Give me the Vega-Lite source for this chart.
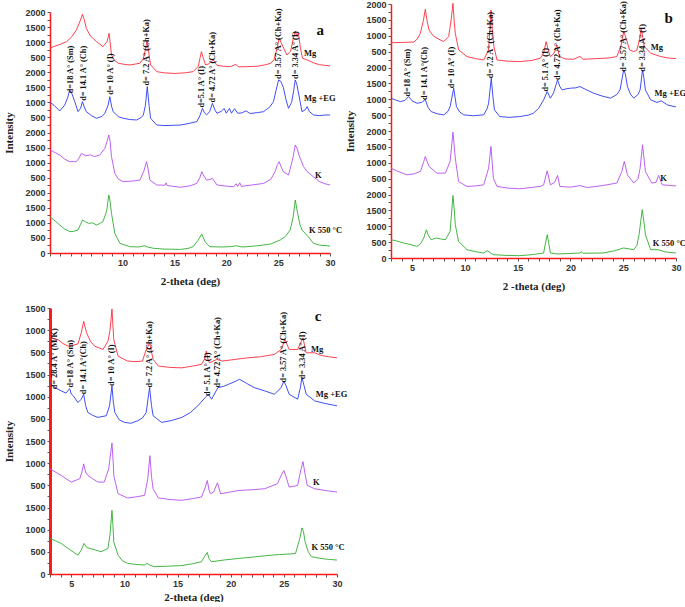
{
"$schema":"https://vega.github.io/schema/vega-lite/v6.json",
"padding":{"left":3,"top":0,"right":0,"bottom":0},
"config":{"view":{"stroke":null},"axis":{"grid":false,"labelFont":"Liberation Sans","labelFontWeight":"bold","labelFontSize":9,"labelColor":"#333","titleFont":"Liberation Serif","titleFontWeight":"bold","titleFontSize":11,"titleColor":"#222","tickColor":"#555","tickSize":3,"labelPadding":2,"labelOverlap":false,"labelFlush":false,"domainColor":"#ff1a1a","domainWidth":1.5}},
"datasets":{
"a":[
{"s":"Mg","x":3,"y":6800},{"s":"Mg","x":3.5,"y":6870},{"s":"Mg","x":4,"y":6930},{"s":"Mg","x":4.6,"y":7015},{"s":"Mg","x":5.1,"y":7180},{"s":"Mg","x":5.55,"y":7404},{"s":"Mg","x":5.9,"y":7700},{"s":"Mg","x":6.13,"y":7925},{"s":"Mg","x":6.3,"y":7750},{"s":"Mg","x":6.5,"y":7460},{"s":"Mg","x":6.9,"y":7200},{"s":"Mg","x":7.5,"y":7015},{"s":"Mg","x":8.1,"y":6850},{"s":"Mg","x":8.5,"y":7015},{"s":"Mg","x":8.7,"y":7294},{"s":"Mg","x":8.93,"y":6574},{"s":"Mg","x":9.2,"y":6400},{"s":"Mg","x":9.6,"y":6298},{"s":"Mg","x":10.2,"y":6260},{"s":"Mg","x":10.7,"y":6242},{"s":"Mg","x":11.2,"y":6270},{"s":"Mg","x":11.67,"y":6298},{"s":"Mg","x":12.0,"y":6450},{"s":"Mg","x":12.2,"y":6750},{"s":"Mg","x":12.35,"y":7050},{"s":"Mg","x":12.5,"y":6700},{"s":"Mg","x":12.7,"y":6242},{"s":"Mg","x":13.3,"y":6020},{"s":"Mg","x":14,"y":5980},{"s":"Mg","x":15,"y":5960},{"s":"Mg","x":16,"y":5980},{"s":"Mg","x":16.8,"y":6020},{"s":"Mg","x":17.3,"y":6200},{"s":"Mg","x":17.6,"y":6683},{"s":"Mg","x":17.8,"y":6450},{"s":"Mg","x":18.0,"y":6242},{"s":"Mg","x":18.3,"y":6280},{"s":"Mg","x":18.75,"y":6408},{"s":"Mg","x":19.1,"y":6230},{"s":"Mg","x":19.7,"y":6200},{"s":"Mg","x":20.4,"y":6186},{"s":"Mg","x":20.9,"y":6260},{"s":"Mg","x":21.2,"y":6180},{"s":"Mg","x":22,"y":6186},{"s":"Mg","x":23,"y":6200},{"s":"Mg","x":23.8,"y":6250},{"s":"Mg","x":24.3,"y":6300},{"s":"Mg","x":24.6,"y":6420},{"s":"Mg","x":24.9,"y":6800},{"s":"Mg","x":25.1,"y":7128},{"s":"Mg","x":25.4,"y":6900},{"s":"Mg","x":25.84,"y":6574},{"s":"Mg","x":26.2,"y":6700},{"s":"Mg","x":26.45,"y":7100},{"s":"Mg","x":26.65,"y":7370},{"s":"Mg","x":26.8,"y":7200},{"s":"Mg","x":26.95,"y":7300},{"s":"Mg","x":27.15,"y":6800},{"s":"Mg","x":27.35,"y":6463},{"s":"Mg","x":27.7,"y":6420},{"s":"Mg","x":28.0,"y":6380},{"s":"Mg","x":28.5,"y":6300},{"s":"Mg","x":29,"y":6250},{"s":"Mg","x":29.5,"y":6230},{"s":"Mg","x":30,"y":6208},
{"s":"EG","x":3,"y":5000},{"s":"EG","x":3.4,"y":4900},{"s":"EG","x":3.94,"y":4714},{"s":"EG","x":4.42,"y":4914},{"s":"EG","x":4.7,"y":5150},{"s":"EG","x":4.9,"y":5412},{"s":"EG","x":5.1,"y":5300},{"s":"EG","x":5.39,"y":5024},{"s":"EG","x":5.7,"y":4692},{"s":"EG","x":5.95,"y":4800},{"s":"EG","x":6.13,"y":5024},{"s":"EG","x":6.3,"y":4850},{"s":"EG","x":6.5,"y":4692},{"s":"EG","x":7,"y":4560},{"s":"EG","x":7.48,"y":4472},{"s":"EG","x":8,"y":4530},{"s":"EG","x":8.29,"y":4638},{"s":"EG","x":8.6,"y":4900},{"s":"EG","x":8.77,"y":5190},{"s":"EG","x":8.95,"y":4850},{"s":"EG","x":9.1,"y":4692},{"s":"EG","x":9.6,"y":4520},{"s":"EG","x":10.06,"y":4472},{"s":"EG","x":10.7,"y":4430},{"s":"EG","x":11.35,"y":4416},{"s":"EG","x":11.8,"y":4500},{"s":"EG","x":12.0,"y":4582},{"s":"EG","x":12.2,"y":4900},{"s":"EG","x":12.38,"y":5522},{"s":"EG","x":12.55,"y":4900},{"s":"EG","x":12.7,"y":4472},{"s":"EG","x":13.28,"y":4250},{"s":"EG","x":14,"y":4230},{"s":"EG","x":15,"y":4240},{"s":"EG","x":15.6,"y":4250},{"s":"EG","x":16.4,"y":4300},{"s":"EG","x":17.15,"y":4360},{"s":"EG","x":17.45,"y":4550},{"s":"EG","x":17.7,"y":4803},{"s":"EG","x":17.9,"y":4650},{"s":"EG","x":18.1,"y":4582},{"s":"EG","x":18.4,"y":4700},{"s":"EG","x":18.66,"y":4969},{"s":"EG","x":18.9,"y":4750},{"s":"EG","x":19.1,"y":4638},{"s":"EG","x":19.5,"y":4700},{"s":"EG","x":19.8,"y":4800},{"s":"EG","x":20.0,"y":4640},{"s":"EG","x":20.3,"y":4800},{"s":"EG","x":20.5,"y":4640},{"s":"EG","x":20.8,"y":4790},{"s":"EG","x":21.1,"y":4640},{"s":"EG","x":21.5,"y":4650},{"s":"EG","x":21.9,"y":4720},{"s":"EG","x":22.3,"y":4630},{"s":"EG","x":23,"y":4660},{"s":"EG","x":23.6,"y":4692},{"s":"EG","x":24.2,"y":4850},{"s":"EG","x":24.55,"y":5024},{"s":"EG","x":24.8,"y":5400},{"s":"EG","x":25.04,"y":5744},{"s":"EG","x":25.25,"y":5700},{"s":"EG","x":25.5,"y":5500},{"s":"EG","x":25.75,"y":5100},{"s":"EG","x":26.0,"y":4803},{"s":"EG","x":26.3,"y":5000},{"s":"EG","x":26.5,"y":5400},{"s":"EG","x":26.65,"y":5744},{"s":"EG","x":26.8,"y":5600},{"s":"EG","x":27.0,"y":5246},{"s":"EG","x":27.3,"y":4692},{"s":"EG","x":27.6,"y":4750},{"s":"EG","x":27.8,"y":4860},{"s":"EG","x":28.0,"y":4700},{"s":"EG","x":28.4,"y":4582},{"s":"EG","x":29,"y":4560},{"s":"EG","x":29.5,"y":4580},{"s":"EG","x":30,"y":4582},
{"s":"K","x":3,"y":3420},{"s":"K","x":3.5,"y":3330},{"s":"K","x":3.94,"y":3254},{"s":"K","x":4.4,"y":3120},{"s":"K","x":4.9,"y":3031},{"s":"K","x":5.55,"y":3031},{"s":"K","x":5.8,"y":3150},{"s":"K","x":6.03,"y":3310},{"s":"K","x":6.4,"y":3230},{"s":"K","x":6.9,"y":3254},{"s":"K","x":7.3,"y":3200},{"s":"K","x":7.8,"y":3254},{"s":"K","x":8.29,"y":3475},{"s":"K","x":8.5,"y":3700},{"s":"K","x":8.67,"y":3918},{"s":"K","x":8.8,"y":3700},{"s":"K","x":8.93,"y":3199},{"s":"K","x":9.25,"y":2645},{"s":"K","x":9.6,"y":2450},{"s":"K","x":10.06,"y":2368},{"s":"K","x":11,"y":2390},{"s":"K","x":11.67,"y":2420},{"s":"K","x":12.05,"y":2720},{"s":"K","x":12.31,"y":3031},{"s":"K","x":12.45,"y":2800},{"s":"K","x":12.63,"y":2420},{"s":"K","x":13.28,"y":2258},{"s":"K","x":14.1,"y":2250},{"s":"K","x":14.2,"y":2330},{"s":"K","x":14.3,"y":2240},{"s":"K","x":15.6,"y":2180},{"s":"K","x":16.5,"y":2230},{"s":"K","x":17.15,"y":2310},{"s":"K","x":17.45,"y":2500},{"s":"K","x":17.63,"y":2700},{"s":"K","x":17.85,"y":2550},{"s":"K","x":18.1,"y":2420},{"s":"K","x":18.4,"y":2440},{"s":"K","x":18.66,"y":2475},{"s":"K","x":19.1,"y":2258},{"s":"K","x":20,"y":2220},{"s":"K","x":20.7,"y":2200},{"s":"K","x":20.95,"y":2300},{"s":"K","x":21.1,"y":2210},{"s":"K","x":21.3,"y":2330},{"s":"K","x":21.45,"y":2210},{"s":"K","x":22.5,"y":2260},{"s":"K","x":23.6,"y":2310},{"s":"K","x":24.3,"y":2450},{"s":"K","x":24.7,"y":2700},{"s":"K","x":24.9,"y":2900},{"s":"K","x":25.1,"y":3031},{"s":"K","x":25.3,"y":2850},{"s":"K","x":25.5,"y":2700},{"s":"K","x":26.0,"y":2590},{"s":"K","x":26.42,"y":3143},{"s":"K","x":26.65,"y":3586},{"s":"K","x":26.85,"y":3450},{"s":"K","x":27.0,"y":3254},{"s":"K","x":27.45,"y":2866},{"s":"K","x":27.8,"y":2700},{"s":"K","x":28.4,"y":2530},{"s":"K","x":29.0,"y":2368},{"s":"K","x":29.5,"y":2300},{"s":"K","x":30,"y":2258},
{"s":"K5","x":3,"y":1205},{"s":"K5","x":3.5,"y":1060},{"s":"K5","x":3.94,"y":930},{"s":"K5","x":4.4,"y":800},{"s":"K5","x":4.9,"y":708},{"s":"K5","x":5.3,"y":720},{"s":"K5","x":5.7,"y":763},{"s":"K5","x":5.95,"y":950},{"s":"K5","x":6.13,"y":1096},{"s":"K5","x":6.4,"y":1040},{"s":"K5","x":6.7,"y":985},{"s":"K5","x":7.1,"y":1000},{"s":"K5","x":7.48,"y":930},{"s":"K5","x":7.8,"y":980},{"s":"K5","x":8.1,"y":1040},{"s":"K5","x":8.45,"y":1371},{"s":"K5","x":8.67,"y":1926},{"s":"K5","x":8.8,"y":1700},{"s":"K5","x":8.93,"y":1316},{"s":"K5","x":9.25,"y":653},{"s":"K5","x":9.74,"y":321},{"s":"K5","x":10.7,"y":210},{"s":"K5","x":11.5,"y":200},{"s":"K5","x":12.1,"y":240},{"s":"K5","x":12.4,"y":200},{"s":"K5","x":13.0,"y":155},{"s":"K5","x":14,"y":130},{"s":"K5","x":15.6,"y":120},{"s":"K5","x":16.3,"y":150},{"s":"K5","x":16.8,"y":210},{"s":"K5","x":17.3,"y":432},{"s":"K5","x":17.63,"y":631},{"s":"K5","x":17.95,"y":376},{"s":"K5","x":18.4,"y":210},{"s":"K5","x":19.5,"y":200},{"s":"K5","x":20.4,"y":210},{"s":"K5","x":21,"y":240},{"s":"K5","x":21.5,"y":200},{"s":"K5","x":22.0,"y":210},{"s":"K5","x":23.0,"y":240},{"s":"K5","x":23.6,"y":266},{"s":"K5","x":24.3,"y":300},{"s":"K5","x":25.2,"y":432},{"s":"K5","x":25.7,"y":550},{"s":"K5","x":26.16,"y":763},{"s":"K5","x":26.45,"y":1200},{"s":"K5","x":26.65,"y":1760},{"s":"K5","x":26.88,"y":1316},{"s":"K5","x":27.1,"y":950},{"s":"K5","x":27.3,"y":763},{"s":"K5","x":27.9,"y":542},{"s":"K5","x":28.4,"y":321},{"s":"K5","x":29,"y":260},{"s":"K5","x":30,"y":232}
],
"b":[
{"s":"Mg","x":3,"y":6780},{"s":"Mg","x":4,"y":6790},{"s":"Mg","x":5.15,"y":6800},{"s":"Mg","x":5.5,"y":6900},{"s":"Mg","x":5.78,"y":7078},{"s":"Mg","x":6.05,"y":7450},{"s":"Mg","x":6.25,"y":7833},{"s":"Mg","x":6.4,"y":7500},{"s":"Mg","x":6.6,"y":7182},{"s":"Mg","x":7,"y":7000},{"s":"Mg","x":7.36,"y":6921},{"s":"Mg","x":7.99,"y":6816},{"s":"Mg","x":8.46,"y":6973},{"s":"Mg","x":8.7,"y":7500},{"s":"Mg","x":8.87,"y":8020},{"s":"Mg","x":9.0,"y":7400},{"s":"Mg","x":9.09,"y":7078},{"s":"Mg","x":9.41,"y":6553},{"s":"Mg","x":10.2,"y":6343},{"s":"Mg","x":11,"y":6280},{"s":"Mg","x":11.78,"y":6238},{"s":"Mg","x":12.25,"y":6553},{"s":"Mg","x":12.47,"y":7811},{"s":"Mg","x":12.6,"y":7200},{"s":"Mg","x":12.75,"y":6658},{"s":"Mg","x":13.04,"y":6238},{"s":"Mg","x":14,"y":6200},{"s":"Mg","x":15.2,"y":6186},{"s":"Mg","x":16.3,"y":6220},{"s":"Mg","x":17.14,"y":6290},{"s":"Mg","x":17.45,"y":6450},{"s":"Mg","x":17.7,"y":6815},{"s":"Mg","x":17.9,"y":6550},{"s":"Mg","x":18.1,"y":6343},{"s":"Mg","x":18.45,"y":6450},{"s":"Mg","x":18.72,"y":6710},{"s":"Mg","x":18.95,"y":6350},{"s":"Mg","x":19.5,"y":6270},{"s":"Mg","x":20.3,"y":6260},{"s":"Mg","x":20.9,"y":6350},{"s":"Mg","x":21.2,"y":6260},{"s":"Mg","x":22.5,"y":6280},{"s":"Mg","x":23.6,"y":6300},{"s":"Mg","x":24.4,"y":6343},{"s":"Mg","x":24.8,"y":6700},{"s":"Mg","x":25.04,"y":7130},{"s":"Mg","x":25.3,"y":6900},{"s":"Mg","x":25.6,"y":6553},{"s":"Mg","x":26.0,"y":6500},{"s":"Mg","x":26.3,"y":6553},{"s":"Mg","x":26.55,"y":6900},{"s":"Mg","x":26.7,"y":7236},{"s":"Mg","x":26.85,"y":6950},{"s":"Mg","x":27.0,"y":6658},{"s":"Mg","x":27.6,"y":6448},{"s":"Mg","x":28.5,"y":6350},{"s":"Mg","x":29.2,"y":6300},{"s":"Mg","x":30,"y":6280},
{"s":"EG","x":3,"y":5034},{"s":"EG","x":3.4,"y":4980},{"s":"EG","x":3.88,"y":4927},{"s":"EG","x":4.3,"y":4960},{"s":"EG","x":4.67,"y":5084},{"s":"EG","x":5.0,"y":4950},{"s":"EG","x":5.46,"y":4875},{"s":"EG","x":5.9,"y":4900},{"s":"EG","x":6.25,"y":4990},{"s":"EG","x":6.5,"y":4750},{"s":"EG","x":6.8,"y":4612},{"s":"EG","x":7.4,"y":4540},{"s":"EG","x":8.0,"y":4507},{"s":"EG","x":8.4,"y":4620},{"s":"EG","x":8.6,"y":4770},{"s":"EG","x":8.94,"y":5348},{"s":"EG","x":9.2,"y":4770},{"s":"EG","x":9.5,"y":4600},{"s":"EG","x":9.9,"y":4507},{"s":"EG","x":10.8,"y":4480},{"s":"EG","x":11.78,"y":4507},{"s":"EG","x":12.1,"y":4700},{"s":"EG","x":12.25,"y":4875},{"s":"EG","x":12.5,"y":5663},{"s":"EG","x":12.65,"y":5100},{"s":"EG","x":12.8,"y":4665},{"s":"EG","x":13.3,"y":4455},{"s":"EG","x":14.2,"y":4430},{"s":"EG","x":15.2,"y":4455},{"s":"EG","x":16.0,"y":4500},{"s":"EG","x":16.5,"y":4560},{"s":"EG","x":17.0,"y":4720},{"s":"EG","x":17.46,"y":4980},{"s":"EG","x":17.8,"y":5242},{"s":"EG","x":18.1,"y":5034},{"s":"EG","x":18.4,"y":5200},{"s":"EG","x":18.78,"y":5610},{"s":"EG","x":19.0,"y":5400},{"s":"EG","x":19.2,"y":5295},{"s":"EG","x":19.6,"y":5330},{"s":"EG","x":20.0,"y":5348},{"s":"EG","x":20.5,"y":5360},{"s":"EG","x":20.9,"y":5400},{"s":"EG","x":21.5,"y":5300},{"s":"EG","x":22.2,"y":5190},{"s":"EG","x":23.0,"y":5100},{"s":"EG","x":23.8,"y":5034},{"s":"EG","x":24.4,"y":5150},{"s":"EG","x":24.7,"y":5295},{"s":"EG","x":25.04,"y":5923},{"s":"EG","x":25.2,"y":5800},{"s":"EG","x":25.4,"y":5400},{"s":"EG","x":25.7,"y":5150},{"s":"EG","x":26.0,"y":5034},{"s":"EG","x":26.4,"y":5150},{"s":"EG","x":26.6,"y":5295},{"s":"EG","x":26.83,"y":5923},{"s":"EG","x":26.95,"y":5700},{"s":"EG","x":27.1,"y":5295},{"s":"EG","x":27.6,"y":4980},{"s":"EG","x":28.2,"y":4900},{"s":"EG","x":28.6,"y":4950},{"s":"EG","x":29.2,"y":4820},{"s":"EG","x":29.8,"y":4770},{"s":"EG","x":30,"y":4760},
{"s":"K","x":3,"y":2831},{"s":"K","x":3.5,"y":2750},{"s":"K","x":4.5,"y":2620},{"s":"K","x":5.2,"y":2650},{"s":"K","x":5.8,"y":2730},{"s":"K","x":6.1,"y":3040},{"s":"K","x":6.25,"y":3196},{"s":"K","x":6.6,"y":2883},{"s":"K","x":7.36,"y":2673},{"s":"K","x":8.15,"y":2673},{"s":"K","x":8.6,"y":3040},{"s":"K","x":8.87,"y":3964},{"s":"K","x":9.09,"y":3146},{"s":"K","x":9.4,"y":2410},{"s":"K","x":10.2,"y":2253},{"s":"K","x":11.0,"y":2270},{"s":"K","x":11.78,"y":2305},{"s":"K","x":12.25,"y":2831},{"s":"K","x":12.47,"y":3511},{"s":"K","x":12.7,"y":2517},{"s":"K","x":13.04,"y":2253},{"s":"K","x":14.1,"y":2200},{"s":"K","x":15.2,"y":2180},{"s":"K","x":16.3,"y":2220},{"s":"K","x":17.2,"y":2260},{"s":"K","x":17.46,"y":2305},{"s":"K","x":17.8,"y":2746},{"s":"K","x":18.1,"y":2305},{"s":"K","x":18.5,"y":2380},{"s":"K","x":18.78,"y":2600},{"s":"K","x":19.0,"y":2253},{"s":"K","x":20.0,"y":2230},{"s":"K","x":20.9,"y":2280},{"s":"K","x":21.6,"y":2220},{"s":"K","x":23.0,"y":2280},{"s":"K","x":24.4,"y":2360},{"s":"K","x":24.87,"y":2725},{"s":"K","x":25.1,"y":3040},{"s":"K","x":25.4,"y":2620},{"s":"K","x":26.0,"y":2360},{"s":"K","x":26.4,"y":2500},{"s":"K","x":26.6,"y":2831},{"s":"K","x":26.83,"y":3564},{"s":"K","x":27.1,"y":2730},{"s":"K","x":27.7,"y":2360},{"s":"K","x":28.1,"y":2380},{"s":"K","x":28.35,"y":2600},{"s":"K","x":28.7,"y":2305},{"s":"K","x":29.3,"y":2290},{"s":"K","x":30,"y":2270},
{"s":"K5","x":3,"y":576},{"s":"K5","x":3.5,"y":540},{"s":"K5","x":4.2,"y":471},{"s":"K5","x":4.9,"y":420},{"s":"K5","x":5.46,"y":366},{"s":"K5","x":5.8,"y":450},{"s":"K5","x":6.1,"y":629},{"s":"K5","x":6.35,"y":890},{"s":"K5","x":6.55,"y":700},{"s":"K5","x":6.8,"y":576},{"s":"K5","x":7.25,"y":629},{"s":"K5","x":7.7,"y":600},{"s":"K5","x":8.15,"y":576},{"s":"K5","x":8.6,"y":838},{"s":"K5","x":8.87,"y":1970},{"s":"K5","x":9.0,"y":1500},{"s":"K5","x":9.09,"y":1048},{"s":"K5","x":9.4,"y":524},{"s":"K5","x":10.2,"y":262},{"s":"K5","x":11.0,"y":200},{"s":"K5","x":11.78,"y":157},{"s":"K5","x":12.1,"y":231},{"s":"K5","x":12.4,"y":170},{"s":"K5","x":12.7,"y":105},{"s":"K5","x":14.0,"y":80},{"s":"K5","x":15.2,"y":73},{"s":"K5","x":16.5,"y":110},{"s":"K5","x":17.46,"y":157},{"s":"K5","x":17.65,"y":500},{"s":"K5","x":17.8,"y":734},{"s":"K5","x":17.95,"y":450},{"s":"K5","x":18.1,"y":157},{"s":"K5","x":18.7,"y":126},{"s":"K5","x":19.8,"y":140},{"s":"K5","x":20.9,"y":157},{"s":"K5","x":21.0,"y":200},{"s":"K5","x":21.2,"y":150},{"s":"K5","x":23.1,"y":157},{"s":"K5","x":24.2,"y":230},{"s":"K5","x":25.04,"y":315},{"s":"K5","x":26.0,"y":262},{"s":"K5","x":26.3,"y":400},{"s":"K5","x":26.5,"y":734},{"s":"K5","x":26.8,"y":1520},{"s":"K5","x":27.0,"y":1050},{"s":"K5","x":27.1,"y":734},{"s":"K5","x":27.6,"y":262},{"s":"K5","x":28.3,"y":262},{"s":"K5","x":29,"y":190},{"s":"K5","x":30,"y":157}
],
"c":[
{"s":"Mg","x":3,"y":5350},{"s":"Mg","x":3.4,"y":5300},{"s":"Mg","x":3.75,"y":5289},{"s":"Mg","x":4.2,"y":5200},{"s":"Mg","x":4.7,"y":5139},{"s":"Mg","x":5.2,"y":5160},{"s":"Mg","x":5.63,"y":5190},{"s":"Mg","x":5.94,"y":5440},{"s":"Mg","x":6.17,"y":5700},{"s":"Mg","x":6.44,"y":5440},{"s":"Mg","x":6.8,"y":5250},{"s":"Mg","x":7.2,"y":5139},{"s":"Mg","x":7.99,"y":5065},{"s":"Mg","x":8.45,"y":5250},{"s":"Mg","x":8.65,"y":5500},{"s":"Mg","x":8.83,"y":5978},{"s":"Mg","x":8.92,"y":5600},{"s":"Mg","x":9.0,"y":5289},{"s":"Mg","x":9.4,"y":4915},{"s":"Mg","x":10.3,"y":4803},{"s":"Mg","x":11.0,"y":4790},{"s":"Mg","x":11.7,"y":4803},{"s":"Mg","x":12.0,"y":5027},{"s":"Mg","x":12.37,"y":5215},{"s":"Mg","x":12.7,"y":4840},{"s":"Mg","x":13.2,"y":4690},{"s":"Mg","x":14.3,"y":4660},{"s":"Mg","x":15.4,"y":4650},{"s":"Mg","x":16.4,"y":4690},{"s":"Mg","x":17.25,"y":4727},{"s":"Mg","x":17.55,"y":4850},{"s":"Mg","x":17.7,"y":5027},{"s":"Mg","x":17.85,"y":4850},{"s":"Mg","x":18.0,"y":4765},{"s":"Mg","x":18.7,"y":4840},{"s":"Mg","x":19.2,"y":4803},{"s":"Mg","x":20.4,"y":4840},{"s":"Mg","x":21.6,"y":4877},{"s":"Mg","x":22.8,"y":4900},{"s":"Mg","x":24.1,"y":4952},{"s":"Mg","x":24.75,"y":5065},{"s":"Mg","x":25.1,"y":5289},{"s":"Mg","x":25.5,"y":5065},{"s":"Mg","x":26.3,"y":5065},{"s":"Mg","x":26.55,"y":5200},{"s":"Mg","x":26.8,"y":5326},{"s":"Mg","x":26.95,"y":5150},{"s":"Mg","x":27.1,"y":4990},{"s":"Mg","x":27.9,"y":4990},{"s":"Mg","x":28.5,"y":4930},{"s":"Mg","x":29.2,"y":4900},{"s":"Mg","x":30,"y":4877},
{"s":"EG","x":3,"y":4300},{"s":"EG","x":3.5,"y":4200},{"s":"EG","x":4.06,"y":4130},{"s":"EG","x":4.5,"y":4080},{"s":"EG","x":4.85,"y":4180},{"s":"EG","x":5.0,"y":4060},{"s":"EG","x":5.2,"y":4017},{"s":"EG","x":5.63,"y":3868},{"s":"EG","x":5.94,"y":3943},{"s":"EG","x":6.17,"y":4055},{"s":"EG","x":6.35,"y":3800},{"s":"EG","x":6.56,"y":3644},{"s":"EG","x":7.0,"y":3580},{"s":"EG","x":7.51,"y":3532},{"s":"EG","x":8.3,"y":3570},{"s":"EG","x":8.6,"y":3793},{"s":"EG","x":8.83,"y":4242},{"s":"EG","x":8.95,"y":3900},{"s":"EG","x":9.1,"y":3644},{"s":"EG","x":9.5,"y":3480},{"s":"EG","x":10.0,"y":3420},{"s":"EG","x":10.6,"y":3400},{"s":"EG","x":11.27,"y":3457},{"s":"EG","x":11.7,"y":3520},{"s":"EG","x":12.05,"y":3644},{"s":"EG","x":12.37,"y":4205},{"s":"EG","x":12.55,"y":3800},{"s":"EG","x":12.7,"y":3570},{"s":"EG","x":13.5,"y":3420},{"s":"EG","x":14.4,"y":3460},{"s":"EG","x":15.4,"y":3532},{"s":"EG","x":16.2,"y":3640},{"s":"EG","x":16.9,"y":3793},{"s":"EG","x":17.6,"y":3980},{"s":"EG","x":17.9,"y":4055},{"s":"EG","x":18.2,"y":3943},{"s":"EG","x":18.8,"y":4205},{"s":"EG","x":19.3,"y":4230},{"s":"EG","x":19.8,"y":4280},{"s":"EG","x":20.3,"y":4330},{"s":"EG","x":20.83,"y":4392},{"s":"EG","x":21.5,"y":4300},{"s":"EG","x":22.2,"y":4205},{"s":"EG","x":23.2,"y":4130},{"s":"EG","x":24.1,"y":4055},{"s":"EG","x":24.75,"y":4205},{"s":"EG","x":25.0,"y":4353},{"s":"EG","x":25.2,"y":4250},{"s":"EG","x":25.5,"y":4055},{"s":"EG","x":26.3,"y":3943},{"s":"EG","x":26.55,"y":4200},{"s":"EG","x":26.7,"y":4430},{"s":"EG","x":26.9,"y":4250},{"s":"EG","x":27.1,"y":4055},{"s":"EG","x":27.9,"y":3905},{"s":"EG","x":28.8,"y":3850},{"s":"EG","x":30,"y":3793},
{"s":"K","x":3,"y":2372},{"s":"K","x":3.5,"y":2300},{"s":"K","x":4.06,"y":2222},{"s":"K","x":4.5,"y":2150},{"s":"K","x":5.0,"y":2073},{"s":"K","x":5.8,"y":2148},{"s":"K","x":6.0,"y":2300},{"s":"K","x":6.17,"y":2484},{"s":"K","x":6.35,"y":2300},{"s":"K","x":6.56,"y":2222},{"s":"K","x":7.0,"y":2150},{"s":"K","x":7.51,"y":2073},{"s":"K","x":8.1,"y":2073},{"s":"K","x":8.52,"y":2372},{"s":"K","x":8.83,"y":2955},{"s":"K","x":8.95,"y":2500},{"s":"K","x":9.0,"y":2222},{"s":"K","x":9.4,"y":1811},{"s":"K","x":10.3,"y":1714},{"s":"K","x":11.1,"y":1740},{"s":"K","x":11.9,"y":1774},{"s":"K","x":12.2,"y":2148},{"s":"K","x":12.4,"y":2670},{"s":"K","x":12.55,"y":2200},{"s":"K","x":12.7,"y":1923},{"s":"K","x":13.2,"y":1714},{"s":"K","x":14.3,"y":1680},{"s":"K","x":15.4,"y":1662},{"s":"K","x":16.4,"y":1700},{"s":"K","x":17.25,"y":1737},{"s":"K","x":17.6,"y":1950},{"s":"K","x":17.8,"y":2110},{"s":"K","x":17.95,"y":1900},{"s":"K","x":18.1,"y":1811},{"s":"K","x":18.4,"y":1850},{"s":"K","x":18.75,"y":2058},{"s":"K","x":19.05,"y":1811},{"s":"K","x":20.0,"y":1850},{"s":"K","x":20.8,"y":1886},{"s":"K","x":22.0,"y":1900},{"s":"K","x":23.2,"y":1923},{"s":"K","x":24.4,"y":2036},{"s":"K","x":24.8,"y":2250},{"s":"K","x":25.0,"y":2334},{"s":"K","x":25.2,"y":2200},{"s":"K","x":25.5,"y":1960},{"s":"K","x":26.3,"y":1998},{"s":"K","x":26.6,"y":2350},{"s":"K","x":26.8,"y":2536},{"s":"K","x":27.0,"y":2250},{"s":"K","x":27.2,"y":1998},{"s":"K","x":27.9,"y":1923},{"s":"K","x":29,"y":1880},{"s":"K","x":30,"y":1848},
{"s":"K5","x":3,"y":801},{"s":"K5","x":3.5,"y":750},{"s":"K5","x":4.06,"y":689},{"s":"K5","x":4.8,"y":560},{"s":"K5","x":5.63,"y":426},{"s":"K5","x":5.94,"y":539},{"s":"K5","x":6.2,"y":689},{"s":"K5","x":6.45,"y":600},{"s":"K5","x":6.75,"y":576},{"s":"K5","x":7.3,"y":540},{"s":"K5","x":7.8,"y":501},{"s":"K5","x":8.45,"y":576},{"s":"K5","x":8.65,"y":900},{"s":"K5","x":8.83,"y":1436},{"s":"K5","x":8.92,"y":1100},{"s":"K5","x":9.0,"y":726},{"s":"K5","x":9.4,"y":426},{"s":"K5","x":9.8,"y":300},{"s":"K5","x":10.3,"y":240},{"s":"K5","x":11.1,"y":215},{"s":"K5","x":11.9,"y":202},{"s":"K5","x":12.1,"y":240},{"s":"K5","x":12.4,"y":200},{"s":"K5","x":12.8,"y":165},{"s":"K5","x":14.0,"y":175},{"s":"K5","x":15.4,"y":190},{"s":"K5","x":16.4,"y":230},{"s":"K5","x":17.25,"y":277},{"s":"K5","x":17.6,"y":420},{"s":"K5","x":17.8,"y":488},{"s":"K5","x":17.95,"y":350},{"s":"K5","x":18.2,"y":277},{"s":"K5","x":19.5,"y":320},{"s":"K5","x":20.8,"y":352},{"s":"K5","x":22.0,"y":380},{"s":"K5","x":23.2,"y":411},{"s":"K5","x":24.6,"y":440},{"s":"K5","x":25.5,"y":450},{"s":"K5","x":26.1,"y":464},{"s":"K5","x":26.5,"y":801},{"s":"K5","x":26.7,"y":1040},{"s":"K5","x":26.85,"y":950},{"s":"K5","x":27.0,"y":726},{"s":"K5","x":27.3,"y":500},{"s":"K5","x":27.6,"y":389},{"s":"K5","x":28.5,"y":350},{"s":"K5","x":29.2,"y":330},{"s":"K5","x":30,"y":315}
],
"aLab":[{"t":"d=18 A° (Sm)","x":5.0,"y":5300},{"t":"d= 14.1 A° (Ch)","x":6.25,"y":5050},{"t":"d= 10 A° (I)","x":8.84,"y":5250},{"t":"d= 7.2 A° (Ch+Ka)","x":12.35,"y":5560},{"t":"d=5.1 A° (I)","x":17.7,"y":4830},{"t":"d= 4.72 A° (Ch+Ka)","x":18.7,"y":5000},{"t":"d= 3.57 A° (Ch+Ka)","x":25.1,"y":5780},{"t":"d= 3.34 A° (I)","x":26.7,"y":5780}],
"aTag":[{"t":"Mg","x":27.5,"y":6640},{"t":"Mg +EG","x":27.5,"y":5146},{"t":"K","x":28.55,"y":2590},{"t":"K 550 °C","x":27.97,"y":764}],
"bLab":[{"t":"d=18 A° (Sm)","x":4.58,"y":5084},{"t":"d= 14.1 A°(Ch)","x":6.25,"y":4980},{"t":"d= 10 A° (I)","x":8.8,"y":5348},{"t":"d= 7.2 A° (Ch+Ka)","x":12.45,"y":5663},{"t":"d= 5.1 A° (I)","x":17.7,"y":5242},{"t":"d= 4.72 A° (Ch+Ka)","x":18.8,"y":5610},{"t":"d= 3.57 A° (Ch+Ka)","x":25.04,"y":5870},{"t":"d= 3.34 A° (I)","x":26.87,"y":5870}],
"bTag":[{"t":"Mg","x":27.6,"y":6657},{"t":"Mg +EG","x":27.97,"y":5190},{"t":"K","x":28.5,"y":2517},{"t":"K 550 °C","x":27.8,"y":472}],
"cLab":[{"t":"d= 28.4 A° (M/K)","x":3.44,"y":4167},{"t":"d=18 A° (Sm)","x":4.99,"y":4205},{"t":"d= 14.1 A°(Ch)","x":6.17,"y":4055},{"t":"d= 10 A° (I)","x":8.83,"y":4242},{"t":"d= 7.2 A° (Ch+Ka)","x":12.37,"y":4205},{"t":"d= 5.1 A° (I)","x":17.85,"y":4017},{"t":"d= 4.72 A° (Ch+Ka)","x":18.85,"y":4205},{"t":"d= 3.57 A° (Ch+Ka)","x":25.0,"y":4320},{"t":"d= 3.34 A° (I)","x":26.8,"y":4392}],
"cTag":[{"t":"Mg","x":27.56,"y":5065},{"t":"Mg +EG","x":28.0,"y":4070},{"t":"K","x":27.75,"y":2073},{"t":"K 550 °C","x":27.6,"y":615}]
},
"vconcat":[
{"hconcat":[
{"width":280,"height":249,
"encoding":{
"x":{"field":"x","type":"quantitative","scale":{"domain":[3,30],"nice":false,"zero":false},"axis":{"title":"2-theta (deg)","values":[3,4,5,6,7,8,9,10,11,12,13,14,15,16,17,18,19,20,21,22,23,24,25,26,27,28,29,30],"labelExpr":"datum.value % 5 == 0 && datum.value > 5 ? format(datum.value,'d') : ''","titlePadding":8}},
"y":{"field":"y","type":"quantitative","scale":{"domain":[0,8000],"nice":false,"range":[249,8]},"axis":{"title":"Intensity","values":[0,250,500,750,1000,1250,1500,1750,2000,2250,2500,2750,3000,3250,3500,3750,4000,4250,4500,4750,5000,5250,5500,5750,6000,6250,6500,6750,7000,7250,7500,7750,8000],"labelExpr":"datum.value % 500 != 0 ? '' : (datum.value == 0 ? '0' : (datum.value % 2000 == 0 ? '2000' : format(datum.value % 2000,'d')))","titlePadding":10}}
},
"layer":[
{"data":{"name":"a"},"mark":{"type":"line","strokeWidth":0.9},"encoding":{"color":{"field":"s","type":"nominal","scale":{"domain":["Mg","EG","K","K5"],"range":["#ff2d3d","#2b3bf5","#b54ff2","#2fae2f"]},"legend":null}}},
{"data":{"name":"aLab"},"mark":{"type":"text","angle":270,"align":"left","baseline":"middle","font":"Liberation Serif","fontWeight":"bold","fontSize":8.3,"color":"#111"},"encoding":{"text":{"field":"t"}}},
{"data":{"name":"aTag"},"mark":{"type":"text","align":"left","baseline":"middle","font":"Liberation Serif","fontWeight":"bold","fontSize":8.5,"color":"#111"},"encoding":{"text":{"field":"t"}}},
{"data":{"values":[{"t":"a","x":28.7,"y":7400}]},"mark":{"type":"text","align":"left","baseline":"middle","font":"Liberation Serif","fontWeight":"bold","fontSize":15,"color":"#111"},"encoding":{"text":{"field":"t"}}}
]},
{"width":285,"height":254,
"encoding":{
"x":{"field":"x","type":"quantitative","scale":{"domain":[3,30],"nice":false,"zero":false},"axis":{"title":"2 -theta (deg)","values":[3,4,5,6,7,8,9,10,11,12,13,14,15,16,17,18,19,20,21,22,23,24,25,26,27,28,29,30],"labelExpr":"datum.value % 5 == 0 ? format(datum.value,'d') : ''","titlePadding":8}},
"y":{"field":"y","type":"quantitative","scale":{"domain":[0,8000],"nice":false},"axis":{"title":"Intensity","values":[0,250,500,750,1000,1250,1500,1750,2000,2250,2500,2750,3000,3250,3500,3750,4000,4250,4500,4750,5000,5250,5500,5750,6000,6250,6500,6750,7000,7250,7500,7750,8000],"labelExpr":"datum.value % 500 != 0 ? '' : (datum.value == 0 ? '0' : (datum.value % 2000 == 0 ? '2000' : format(datum.value % 2000,'d')))","titlePadding":10}}
},
"layer":[
{"data":{"name":"b"},"mark":{"type":"line","strokeWidth":0.9},"encoding":{"color":{"field":"s","type":"nominal","scale":{"domain":["Mg","EG","K","K5"],"range":["#ff2d3d","#2b3bf5","#b54ff2","#2fae2f"]},"legend":null}}},
{"data":{"name":"bLab"},"mark":{"type":"text","angle":270,"align":"left","baseline":"middle","font":"Liberation Serif","fontWeight":"bold","fontSize":8.3,"color":"#111"},"encoding":{"text":{"field":"t"}}},
{"data":{"name":"bTag"},"mark":{"type":"text","align":"left","baseline":"middle","font":"Liberation Serif","fontWeight":"bold","fontSize":8.5,"color":"#111"},"encoding":{"text":{"field":"t"}}},
{"data":{"values":[{"t":"b","x":28.9,"y":7550}]},"mark":{"type":"text","align":"left","baseline":"middle","font":"Liberation Serif","fontWeight":"bold","fontSize":15,"color":"#111"},"encoding":{"text":{"field":"t"}}}
]}
],"spacing":61,"bounds":"flush"},
{"width":287,"height":266,
"encoding":{
"x":{"field":"x","type":"quantitative","scale":{"domain":[3,30],"nice":false,"zero":false},"axis":{"title":"2-theta (deg)","values":[3,4,5,6,7,8,9,10,11,12,13,14,15,16,17,18,19,20,21,22,23,24,25,26,27,28,29,30],"labelExpr":"datum.value % 5 == 0 ? format(datum.value,'d') : ''","titlePadding":3}},
"y":{"field":"y","type":"quantitative","scale":{"domain":[0,6000],"nice":false},"axis":{"title":"Intensity","domainWidth":3,"values":[0,250,500,750,1000,1250,1500,1750,2000,2250,2500,2750,3000,3250,3500,3750,4000,4250,4500,4750,5000,5250,5500,5750,6000],"labelExpr":"datum.value % 500 != 0 ? '' : (datum.value == 0 ? '0' : (datum.value % 1500 == 0 ? '1500' : format(datum.value % 1500,'d')))","titlePadding":10}}
},
"layer":[
{"data":{"name":"c"},"mark":{"type":"line","strokeWidth":0.9},"encoding":{"color":{"field":"s","type":"nominal","scale":{"domain":["Mg","EG","K","K5"],"range":["#ff2d3d","#2b3bf5","#b54ff2","#2fae2f"]},"legend":null}}},
{"data":{"name":"cLab"},"mark":{"type":"text","angle":270,"align":"left","baseline":"middle","font":"Liberation Serif","fontWeight":"bold","fontSize":8.3,"color":"#111"},"encoding":{"text":{"field":"t"}}},
{"data":{"name":"cTag"},"mark":{"type":"text","align":"left","baseline":"middle","font":"Liberation Serif","fontWeight":"bold","fontSize":8.5,"color":"#111"},"encoding":{"text":{"field":"t"}}},
{"data":{"values":[{"t":"c","x":27.9,"y":5812}]},"mark":{"type":"text","align":"left","baseline":"middle","font":"Liberation Serif","fontWeight":"bold","fontSize":15,"color":"#111"},"encoding":{"text":{"field":"t"}}}
]}
],
"spacing":13
}
